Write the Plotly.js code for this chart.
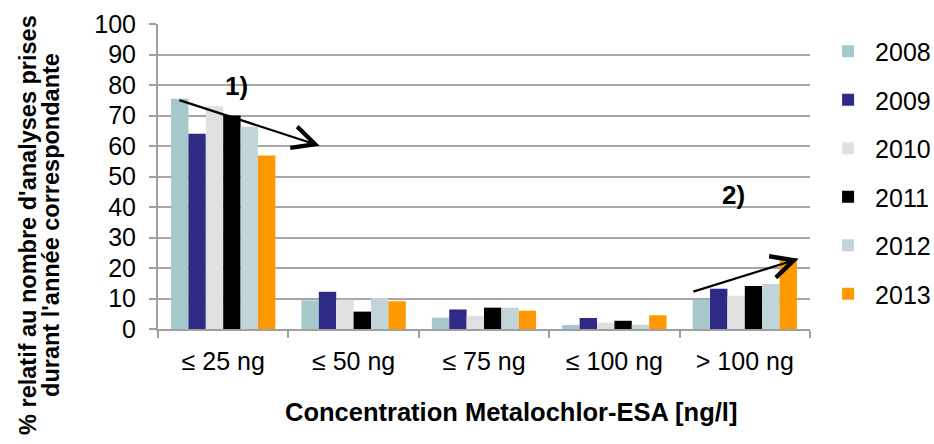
<!DOCTYPE html>
<html>
<head>
<meta charset="utf-8">
<script src="https://cdn.plot.ly/plotly-3.0.1.min.js"></script>
<style>html,body{margin:0;padding:0;background:#fff;}#chart{width:934px;height:444px;}</style>
</head>
<body>
<div id="chart"></div>
<script>
const categories = ["≤ 25 ng", "≤ 50 ng", "≤ 75 ng", "≤ 100 ng", "> 100 ng"];
const years = ["2008", "2009", "2010", "2011", "2012", "2013"];
const v2008 = [75.5, 9.4, 3.7, 1.3, 9.6];
const v2009 = [64.0, 12.2, 6.4, 3.6, 13.2];
const v2010 = [73.0, 9.6, 4.3, 2.1, 10.9];
const v2011 = [70.0, 5.7, 7.0, 2.7, 14.1];
const v2012 = [66.3, 10.2, 7.0, 1.4, 14.8];
const v2013 = [56.9, 9.1, 6.0, 4.5, 23.3];
const seriesValues = [v2008, v2009, v2010, v2011, v2012, v2013];
const colors = ["#A5C8CA", "#2E2A86", "#E0E0E0", "#000000", "#C1D4D7", "#FF9900"];

const traces = years.map((y, i) => ({
  type: "bar",
  name: y,
  x: categories,
  y: seriesValues[i],
  marker: {color: colors[i], line: {width: 0}},
  legendgroup: y
}));

const font = "Liberation Sans, Arial, sans-serif";
const layout = {
  width: 934, height: 444,
  margin: {l: 158, r: 124, t: 24, b: 114.7, autoexpand: false},
  paper_bgcolor: "#fff", plot_bgcolor: "#fff",
  barmode: "group", bargap: 0.2, bargroupgap: 0,
  font: {family: font, color: "#000"},
  showlegend: true,
  legend: {
    x: 1.017, y: 0.985, xanchor: "left", yanchor: "top",
    font: {size: 25, family: font},
    itemwidth: 44,
    traceorder: "grouped", tracegroupgap: 13,
    bgcolor: "rgba(0,0,0,0)"
  },
  xaxis: {
    type: "category",
    showline: true, linecolor: "#A0A0A0", linewidth: 2,
    ticks: "outside", tickson: "boundaries", ticklen: 7, tickcolor: "#A0A0A0", tickwidth: 2,
    tickfont: {size: 25, family: font},
    ticklabelstandoff: 9,
    showgrid: false, zeroline: false,
    range: [-0.5, 4.5]
  },
  yaxis: {
    range: [0, 100], dtick: 10,
    showline: true, linecolor: "#A0A0A0", linewidth: 2,
    ticks: "outside", ticklen: 7, tickcolor: "#A0A0A0", tickwidth: 2,
    tickfont: {size: 25, family: font},
    ticklabelstandoff: 8,
    showgrid: true, gridcolor: "#A6A6A6", gridwidth: 2,
    zeroline: false
  },
  annotations: [
    {xref: "paper", yref: "paper", x: -0.2006, y: 0.342, xanchor: "center", yanchor: "middle",
     textangle: -90, showarrow: false,
     text: "<b>% relatif au nombre d'analyses prises</b>",
     font: {size: 23.5, family: font}},
    {xref: "paper", yref: "paper", x: -0.1653, y: 0.342, xanchor: "center", yanchor: "middle",
     textangle: -90, showarrow: false,
     text: "<b>durant l'année correspondante</b>",
     font: {size: 23.5, family: font}},
    {xref: "paper", yref: "paper", x: 0.542, y: -0.271, xanchor: "center", yanchor: "middle",
     showarrow: false, text: "<b>Concentration Metalochlor-ESA [ng/l]</b>",
     font: {size: 25.5, family: font}},
    {xref: "x", yref: "y", x: 0.74, y: 60.1, axref: "x", ayref: "y", ax: -0.348, ay: 75.2,
     text: "", showarrow: true, arrowhead: 5, arrowsize: 2, arrowwidth: 2.2, arrowcolor: "#000", standoff: 0},
    {xref: "x", yref: "y", x: 4.412, y: 23.0, axref: "x", ayref: "y", ax: 3.594, ay: 12.1,
     text: "", showarrow: true, arrowhead: 5, arrowsize: 2, arrowwidth: 2.2, arrowcolor: "#000", standoff: 0},
    {xref: "x", yref: "y", x: 0.10, y: 79.8, text: "<b>1)</b>", showarrow: false,
     font: {size: 26, family: font}},
    {xref: "x", yref: "y", x: 3.913, y: 44.0, text: "<b>2)</b>", showarrow: false,
     font: {size: 26, family: font}}
  ]
};

Plotly.newPlot("chart", traces, layout, {displayModeBar: false, staticPlot: true});
</script>
</body>
</html>
